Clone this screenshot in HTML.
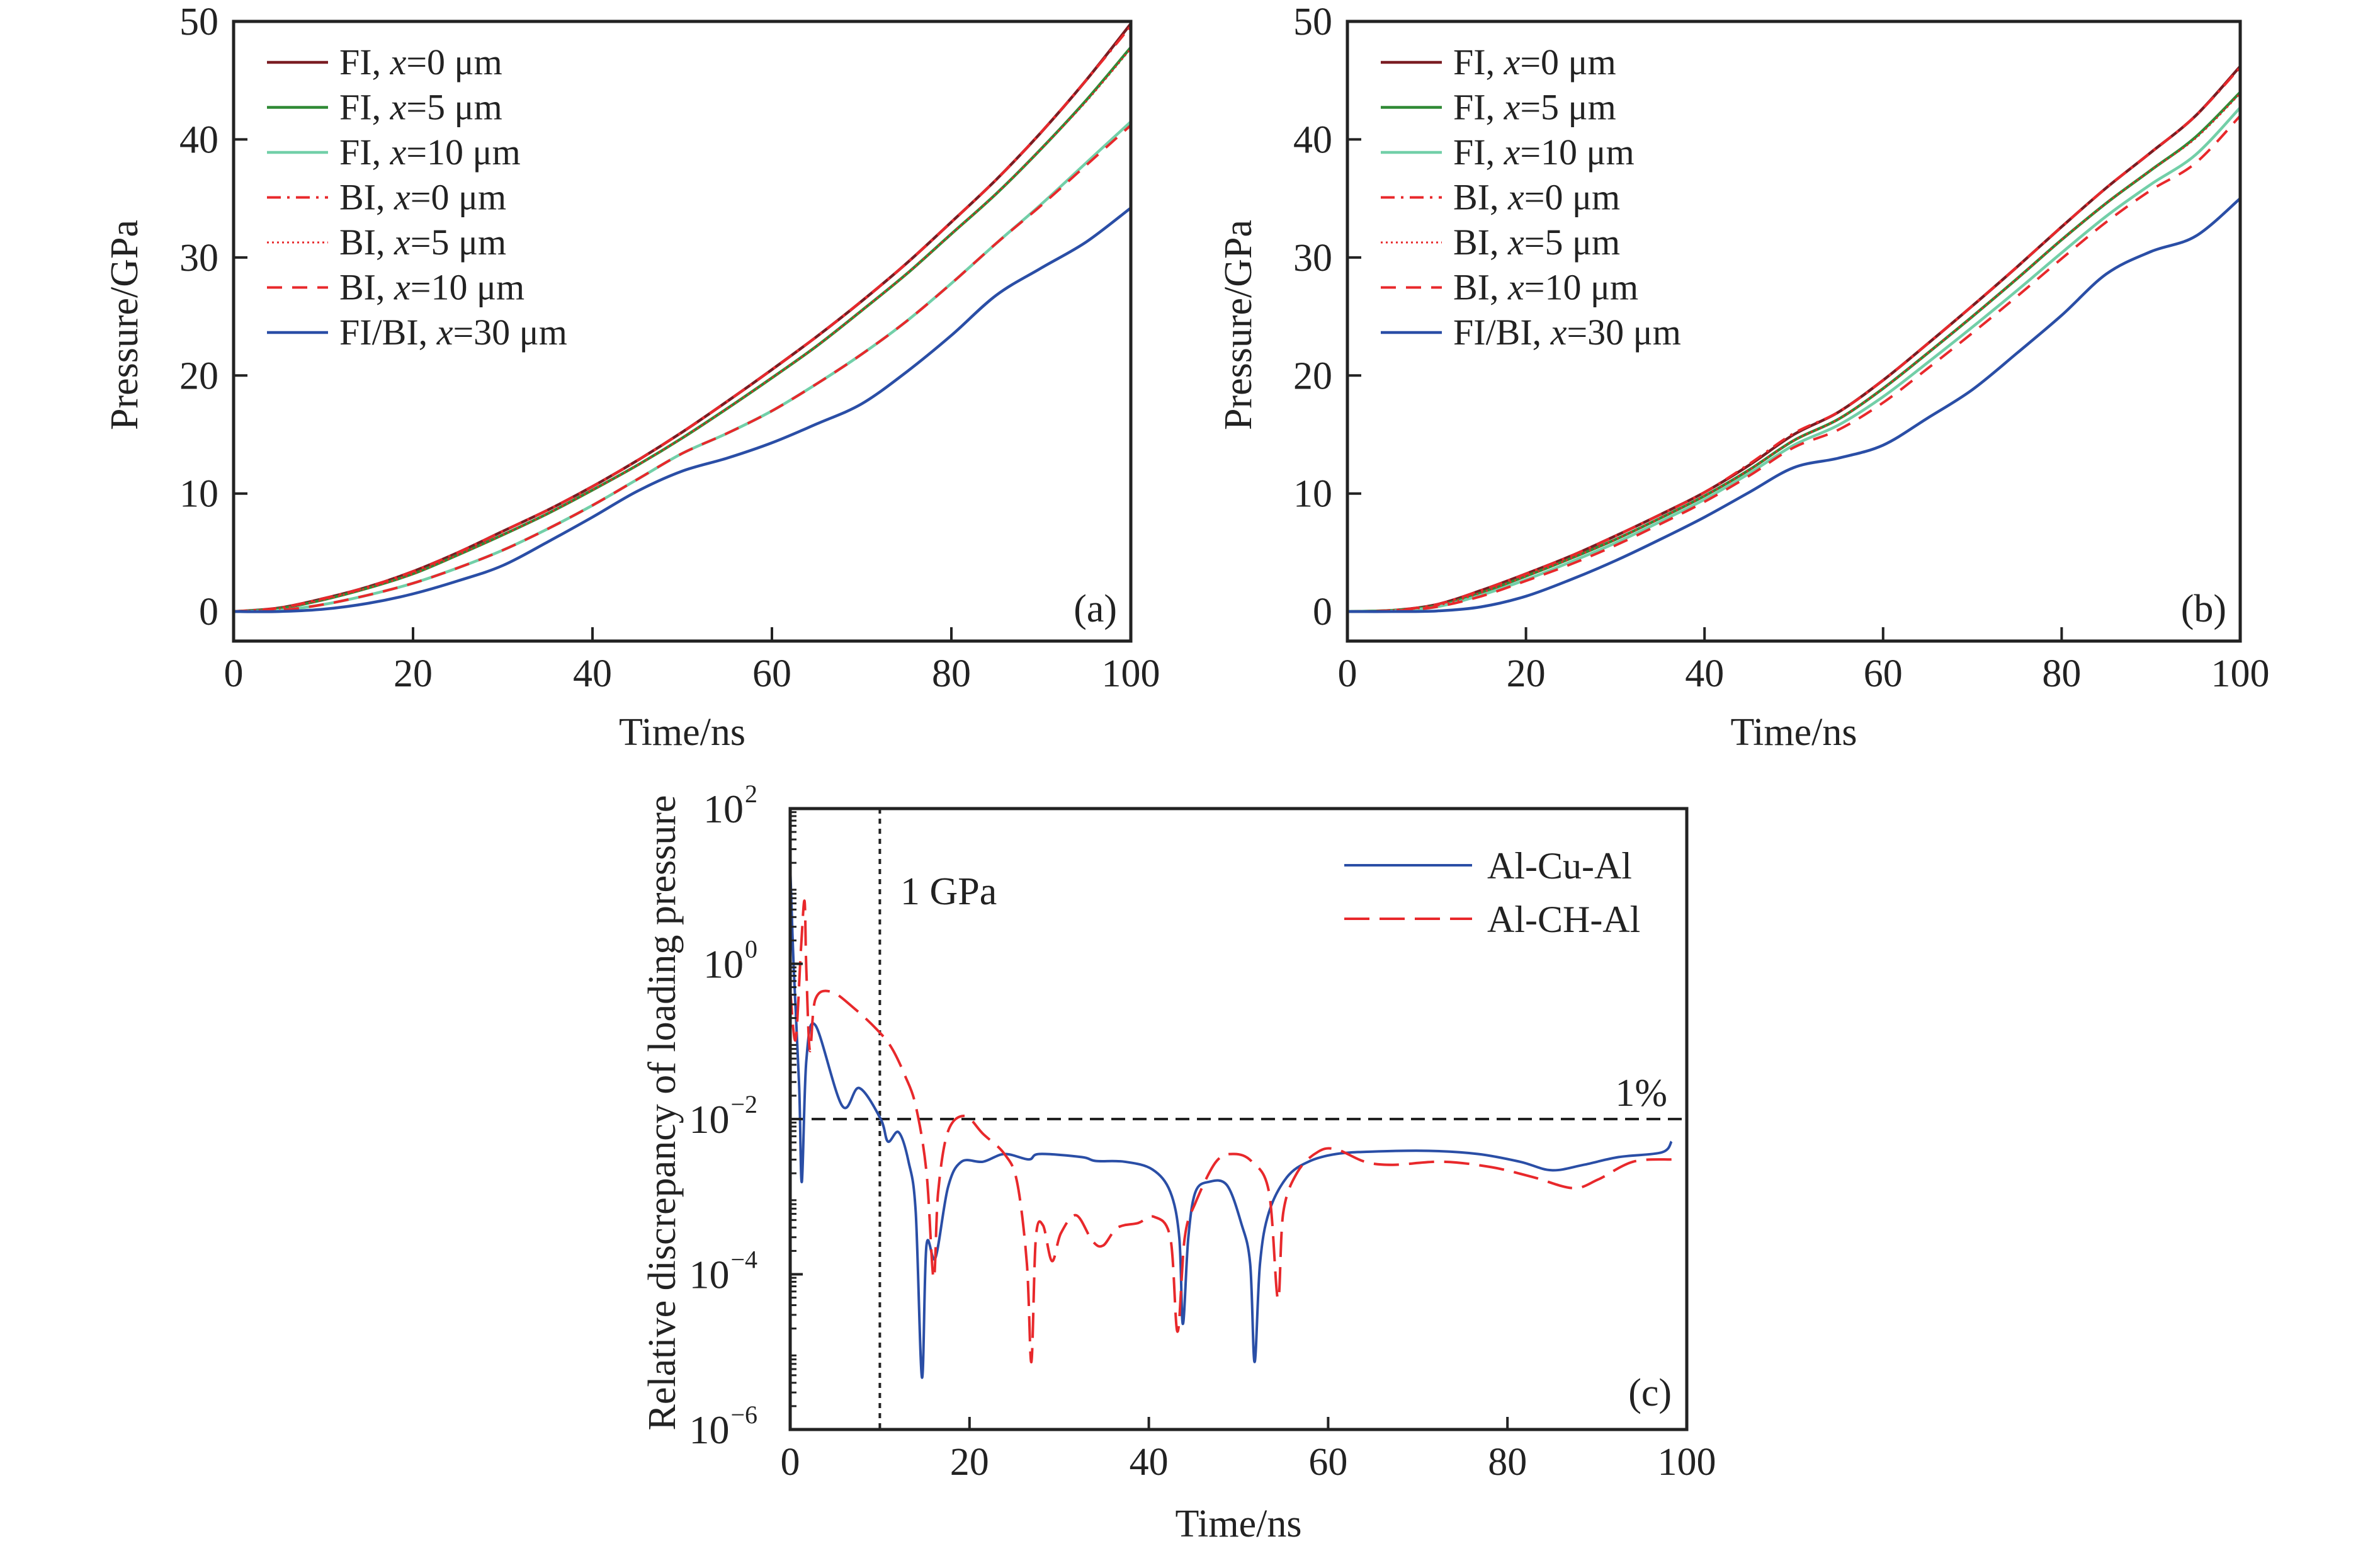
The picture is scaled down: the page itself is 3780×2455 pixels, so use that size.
<!DOCTYPE html>
<html><head><meta charset="utf-8">
<style>
html,body{margin:0;padding:0;background:#fff;}
svg{display:block;font-family:"Liberation Serif",serif;}
</style></head>
<body>
<svg id="fig" width="3780" height="2455" viewBox="0 0 3780 2455" xmlns="http://www.w3.org/2000/svg"></svg>
<script>
// ---- panel (a) data ----
const timeAB = [0,5,10,15,20,25,30,35,40,45,50,55,60,65,70,75,80,85,90,95,100];
const aFI0  = [0,0.3,1.1,2.1,3.4,5.0,6.8,8.6,10.6,12.8,15.2,17.8,20.5,23.3,26.3,29.5,33.0,36.6,40.6,45.0,49.8];
const aFI5  = [0,0.25,1.0,2.0,3.2,4.8,6.5,8.3,10.3,12.4,14.7,17.2,19.8,22.5,25.5,28.6,32.0,35.4,39.2,43.3,47.8];
const aFI10 = [0,0.1,0.6,1.4,2.4,3.7,5.2,7.0,9.0,11.2,13.4,15.1,17.0,19.3,21.8,24.6,27.8,31.2,34.5,38.0,41.5];
const aBI0  = [0,0.3,1.1,2.1,3.4,5.0,6.8,8.6,10.6,12.8,15.2,17.8,20.5,23.3,26.3,29.5,33.0,36.6,40.6,45.0,49.6];
const aBI5  = [0,0.25,1.0,2.0,3.2,4.8,6.5,8.3,10.3,12.4,14.7,17.2,19.8,22.5,25.5,28.6,32.0,35.4,39.2,43.2,47.7];
const aBI10 = [0,0.1,0.6,1.4,2.4,3.7,5.2,7.0,9.0,11.2,13.4,15.1,17.0,19.3,21.8,24.6,27.8,31.2,34.4,37.8,41.2];
const aX30  = [0,0,0.2,0.7,1.5,2.6,3.9,5.9,8.0,10.2,11.9,13.0,14.3,15.9,17.6,20.3,23.4,26.8,29.1,31.3,34.2];
// ---- panel (b) data ----
const bFI0  = [0,0.1,0.6,1.8,3.2,4.7,6.4,8.2,10.1,12.4,15.0,16.9,19.6,22.7,25.9,29.2,32.6,35.9,38.9,42.0,46.2];
const bFI5  = [0,0.1,0.5,1.6,3.0,4.5,6.1,7.9,9.8,12.0,14.5,16.3,18.9,21.9,25.0,28.2,31.5,34.6,37.4,40.2,44.0];
const bFI10 = [0,0.05,0.4,1.4,2.7,4.2,5.8,7.6,9.5,11.7,14.1,15.8,18.2,21.1,24.1,27.2,30.4,33.5,36.2,38.7,42.7];
const bBI0  = [0,0.1,0.6,1.8,3.2,4.7,6.4,8.2,10.1,12.5,15.1,16.9,19.6,22.7,25.9,29.2,32.6,35.9,38.9,42.0,46.1];
const bBI5  = [0,0.1,0.5,1.6,3.0,4.5,6.1,7.9,9.8,12.0,14.5,16.3,18.9,21.9,25.0,28.2,31.5,34.6,37.4,40.1,43.9];
const bBI10 = [0,0.05,0.4,1.3,2.6,4.0,5.6,7.4,9.3,11.5,13.9,15.4,17.7,20.6,23.6,26.7,29.9,33.0,35.7,38.0,42.0];
const bX30  = [0,0,0.05,0.4,1.3,2.7,4.3,6.1,8.0,10.1,12.2,13.0,14.1,16.4,18.8,21.9,25.1,28.6,30.5,31.8,35.0];
const pTicksY = [0,10,20,30,40,50];
const pTicksX = [0,20,40,60,80,100];
// ---- panel (c) data (log10 of relative discrepancy) ----
const cuTime = [0,0.4,1.0,1.3,1.8,2.8,5.8,7.7,10.1,10.9,12.1,13.2,14.0,14.7,15.2,16.2,17.6,19.1,21.5,23.9,26.6,27.8,32.5,34.1,37.3,40.4,42.4,43.4,43.8,44.4,45.2,46.7,48.7,50.3,51.3,51.8,52.4,53.4,55.4,57.8,60.9,64.9,71.2,76.7,81.4,84.9,88.5,92.4,97.2,98.3];
const cuLog  = [1.27,-0.07,-1.57,-2.81,-1.25,-0.79,-1.83,-1.6,-2.0,-2.29,-2.17,-2.55,-3.2,-5.33,-3.63,-3.79,-2.88,-2.55,-2.55,-2.45,-2.52,-2.45,-2.49,-2.54,-2.55,-2.65,-2.94,-3.53,-4.64,-3.53,-2.94,-2.81,-2.85,-3.34,-3.86,-5.13,-3.86,-3.2,-2.75,-2.55,-2.45,-2.42,-2.41,-2.45,-2.55,-2.66,-2.59,-2.49,-2.43,-2.29];
const chTime = [0,0.6,1.2,1.6,1.8,2.2,2.8,4.6,7.3,9.7,11.3,12.8,14.0,15.2,16.0,16.5,17.6,19.5,21.5,23.9,25.3,26.4,26.9,27.4,28.2,29.2,30.2,31.9,33.7,34.9,36.5,38.8,40.6,42.4,43.2,44.0,45.2,47.5,49.5,51.5,53.4,54.4,55.0,56.6,58.9,60.9,64.1,67.2,72.7,78.2,82.9,87.3,90.1,94.0,98.3];
const chLog  = [-0.33,-0.98,0.19,0.81,-0.07,-1.12,-0.46,-0.36,-0.59,-0.85,-1.08,-1.44,-1.83,-2.68,-4.05,-2.94,-2.16,-1.96,-2.19,-2.45,-2.81,-3.86,-5.13,-3.53,-3.37,-3.83,-3.47,-3.24,-3.57,-3.63,-3.4,-3.34,-3.26,-3.53,-4.74,-3.53,-3.08,-2.55,-2.45,-2.55,-2.94,-4.32,-3.2,-2.68,-2.42,-2.39,-2.55,-2.59,-2.55,-2.62,-2.75,-2.89,-2.78,-2.55,-2.52];
const cTicksExp = [2,0,-2,-4,-6];
const cTicksX = [0,20,40,60,80,100];

const NS="http://www.w3.org/2000/svg";
const svg=document.getElementById('fig');
function mk(tag,attrs,parent){const e=document.createElementNS(NS,tag);for(const k in attrs)e.setAttribute(k,attrs[k]);(parent||svg).appendChild(e);return e;}
function smooth(pts){let d='M'+pts[0][0].toFixed(1)+','+pts[0][1].toFixed(1);
 for(let i=0;i<pts.length-1;i++){const p0=pts[Math.max(0,i-1)],p1=pts[i],p2=pts[i+1],p3=pts[Math.min(pts.length-1,i+2)];
  const c1=[p1[0]+(p2[0]-p0[0])/6,p1[1]+(p2[1]-p0[1])/6],c2=[p2[0]-(p3[0]-p1[0])/6,p2[1]-(p3[1]-p1[1])/6];
  d+=' C'+c1[0].toFixed(1)+','+c1[1].toFixed(1)+' '+c2[0].toFixed(1)+','+c2[1].toFixed(1)+' '+p2[0].toFixed(1)+','+p2[1].toFixed(1);}
 return d;}
const COL={fi0:'#7a1c22',fi5:'#2f8a35',fi10:'#72cfa8',bi:'#e8282b',blue:'#2a4ea6'};

function pressurePanel(id,L,R,T,B,series,tag){
 const g=mk('g',{});
 
 
 const sx=t=>L+(t/100)*(R-L), sy=p=>B-(p+2.5)/52.5*(B-T);
 const cp=mk('clipPath',{id:'clip'+id},g);mk('rect',{x:L,y:T,width:R-L,height:B-T},cp);
 const cg=mk('g',{'clip-path':'url(#clip'+id+')'},g);
 series.forEach(s=>{
  const pts=timeAB.map((t,i)=>[sx(t),sy(s.v[i])]);
  const p=mk('path',{d:smooth(pts),fill:'none',stroke:s.c,'stroke-width':s.w||4.5,'stroke-dasharray':s.dash||'none'},cg);
  
  
 });
 const fr=mk('rect',{x:L,y:T,width:R-L,height:B-T,fill:'none',stroke:'#222','stroke-width':5},g);
 
 
 pTicksY.forEach(v=>{const y=sy(v);
  if(v>0&&v<50)mk('line',{x1:L,x2:L+22,y1:y,y2:y,stroke:'#222','stroke-width':4},g);
  const t=mk('text',{x:L-24,y:y+21,'text-anchor':'end','font-size':62,fill:'#222'},g);t.textContent=v;
  
  });
 pTicksX.forEach(v=>{const x=sx(v);
  if(v>0&&v<100)mk('line',{x1:x,x2:x,y1:B,y2:B-22,stroke:'#222','stroke-width':4},g);
  const t=mk('text',{x:x,y:B+72,'text-anchor':'middle','font-size':62,fill:'#222'},g);t.textContent=v;
  
  });
 const xt=mk('text',{x:(L+R)/2,y:B+165,'text-anchor':'middle','font-size':62,fill:'#222'},g);xt.textContent='Time/ns';
 
 
 const yt=mk('text',{x:0,y:0,'text-anchor':'middle','font-size':62,fill:'#222',transform:'translate('+(L-153)+','+((T+B)/2-10)+') rotate(-90)'},g);yt.textContent='Pressure/GPa';
 
 
 const tg=mk('text',{x:R-22,y:sy(0)+16,'text-anchor':'end','font-size':62,fill:'#222'},g);tg.textContent=tag;
 
 
 // legend
 const labels=[['FI, ','=0 μm'],['FI, ','=5 μm'],['FI, ','=10 μm'],['BI, ','=0 μm'],['BI, ','=5 μm'],['BI, ','=10 μm'],['FI/BI, ','=30 μm']];
 const lx=L+53;
 series.forEach((s,i)=>{const y=99+i*71.5;
  const le=mk('g',{},g);
  
  
  mk('line',{x1:lx,x2:lx+97,y1:y,y2:y,stroke:s.c,'stroke-width':s.w||4.5,'stroke-dasharray':s.dash||'none'},le);
  const t=mk('text',{x:lx+115,y:y+19,'font-size':58,fill:'#222'},le);
  t.appendChild(document.createTextNode(labels[i][0]));
  const it=mk('tspan',{'font-style':'italic'},t);it.textContent='x';
  t.appendChild(document.createTextNode(labels[i][1]));
 });
}
function ser(a){return [
 {n:'fi-x0',v:a[0],c:COL.fi0},{n:'fi-x5',v:a[1],c:COL.fi5},{n:'fi-x10',v:a[2],c:COL.fi10},
 {n:'bi-x0',v:a[3],c:COL.bi,dash:'22 10 4 10',w:4},{n:'bi-x5',v:a[4],c:COL.bi,dash:'3 5',w:3},
 {n:'bi-x10',v:a[5],c:COL.bi,dash:'24 16',w:4},{n:'x30',v:a[6],c:COL.blue}];}
pressurePanel('a',371,1796,34,1018,ser([aFI0,aFI5,aFI10,aBI0,aBI5,aBI10,aX30]),'(a)');
pressurePanel('b',2140,3558,34,1018,ser([bFI0,bFI5,bFI10,bBI0,bBI5,bBI10,bX30]),'(b)');

// ---- panel (c) ----
(function(){
 const L=1255,R=2679,T=1284,B=2270;
 const g=mk('g',{});
 
 
 const sx=t=>L+(t/100)*(R-L), sy=e=>T+(2-e)/8*(B-T);
 const cp=mk('clipPath',{id:'clipc'},g);mk('rect',{x:L,y:T,width:R-L,height:B-T},cp);
 const cg=mk('g',{'clip-path':'url(#clipc)'},g);
 const vl=mk('line',{x1:sx(10),x2:sx(10),y1:T,y2:B,stroke:'#222','stroke-width':4,'stroke-dasharray':'8 8'},cg);
 
 
 const hl=mk('line',{x1:L,x2:R,y1:sy(-2),y2:sy(-2),stroke:'#222','stroke-width':4,'stroke-dasharray':'22 12'},cg);
 
 
 const cu=mk('path',{d:smooth(cuTime.map((t,i)=>[sx(t),sy(cuLog[i])])),fill:'none',stroke:COL.blue,'stroke-width':4},cg);
 
 
 const ch=mk('path',{d:smooth(chTime.map((t,i)=>[sx(t),sy(chLog[i])])),fill:'none',stroke:COL.bi,'stroke-width':4,'stroke-dasharray':'40 16'},cg);
 
 
 const fr=mk('rect',{x:L,y:T,width:R-L,height:B-T,fill:'none',stroke:'#222','stroke-width':5},g);
 
 
 for(let e=-6;e<2;e++){for(let m=2;m<10;m++){const y=sy(e+Math.log10(m));mk('line',{x1:L,x2:L+10,y1:y,y2:y,stroke:'#222','stroke-width':3},g);}}
 cTicksExp.forEach(e=>{const y=sy(e);
  mk('line',{x1:L,x2:L+20,y1:y,y2:y,stroke:'#222','stroke-width':4},g);
  const t=mk('text',{x:L-52,y:y+22,'text-anchor':'end','font-size':64,fill:'#222'},g);t.textContent='10';
  const s=mk('tspan',{dx:2,dy:-32,'font-size':40},t);s.textContent=(e<0?'−':'')+Math.abs(e);
  
  });
 cTicksX.forEach(v=>{const x=sx(v);
  if(v>0&&v<100)mk('line',{x1:x,x2:x,y1:B,y2:B-20,stroke:'#222','stroke-width':4},g);
  const t=mk('text',{x:x,y:B+72,'text-anchor':'middle','font-size':62,fill:'#222'},g);t.textContent=v;
  
  });
 const xt=mk('text',{x:(L+R)/2,y:2440,'text-anchor':'middle','font-size':62,fill:'#222'},g);xt.textContent='Time/ns';
 
 
 const yt=mk('text',{x:0,y:0,'text-anchor':'middle','font-size':62,fill:'#222',transform:'translate(1072,'+((T+B)/2-10)+') rotate(-90)'},g);yt.textContent='Relative discrepancy of loading pressure';
 
 
 const a1=mk('text',{x:1430,y:1436,'font-size':62,fill:'#222'},g);a1.textContent='1 GPa';
 
 
 const a2=mk('text',{x:2648,y:1756,'text-anchor':'end','font-size':62,fill:'#222'},g);a2.textContent='1%';
 
 
 const tg=mk('text',{x:2655,y:2232,'text-anchor':'end','font-size':62,fill:'#222'},g);tg.textContent='(c)';
 
 
 [['Al-Cu-Al',COL.blue,'none',1374],['Al-CH-Al',COL.bi,'40 16',1459]].forEach(r=>{
  const le=mk('g',{},g);
  
  
  mk('line',{x1:2135,x2:2338,y1:r[3],y2:r[3],stroke:r[1],'stroke-width':4,'stroke-dasharray':r[2]},le);
  const t=mk('text',{x:2362,y:r[3]+21,'font-size':60,fill:'#222'},le);t.textContent=r[0];});
})();
</script>
</body></html>
